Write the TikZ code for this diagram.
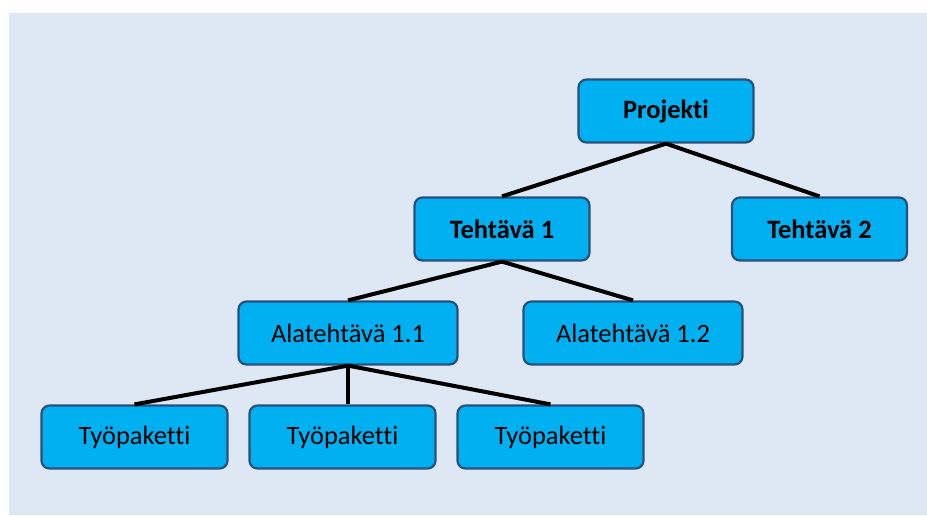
\documentclass[tikz,border=0pt]{standalone}
\usepackage{fontspec}
\setmainfont{Carlito}[Ligatures=NoCommon]
\definecolor{bgblue}{RGB}{222,232,244}
\definecolor{boxfill}{RGB}{0,176,240}
\definecolor{boxedge}{RGB}{40,80,125}
\begin{document}
\begin{tikzpicture}[x=1pt,y=-1pt,
  box/.style={draw=boxedge, line width=2.2pt, fill=boxfill, rounded corners=8pt,
    minimum height=63pt, inner sep=0pt, font=\fontsize{26.5}{30}\selectfont},
  top/.style={box, font=\fontsize{26.5}{30}\selectfont\bfseries},
  link/.style={line width=4pt, black}]
\useasboundingbox (0,0) rectangle (927,515);
\fill[bgblue] (9,13) rectangle (927,515);
% project level
\node[top, minimum width=175pt] (proj) at (666,111) {Projekti};
\node[top, minimum width=175pt] (t1) at (502,229) {Tehtävä 1};
\node[top, minimum width=175pt] (t2) at (819.5,229) {Tehtävä 2};
% sub-tasks
\node[box, minimum width=219pt] (a11) at (348,333) {Alatehtävä 1.1};
\node[box, minimum width=219pt] (a12) at (633,333) {Alatehtävä 1.2};
% work packages
\node[box, minimum width=186pt] (w1) at (134.5,437) {Työpaketti};
\node[box, minimum width=186pt] (w2) at (342.5,437) {Työpaketti};
\node[box, minimum width=186pt] (w3) at (550.5,437) {Työpaketti};
% connectors
\draw[link] (proj.south) -- (t1.north);
\draw[link] (proj.south) -- (t2.north);
\draw[link] (t1.south) -- (a11.north);
\draw[link] (t1.south) -- (a12.north);
\draw[link] (a11.south) -- (w1.north);
\draw[link] (a11.south) -- (w2.north -| a11.south);
\draw[link] (a11.south) -- (w3.north);
\end{tikzpicture}
\end{document}
